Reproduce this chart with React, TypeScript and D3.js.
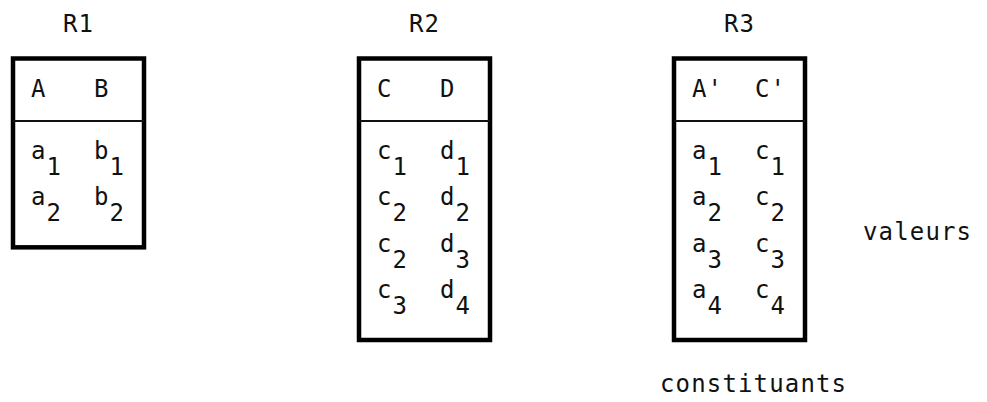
import React, { useEffect, useRef } from 'react';
import * as d3 from 'd3';

// relations R1, R2, R3
const tableNames = ['R1', 'R2', 'R3'];
const tableHeaders = [['A', 'B'], ['C', 'D'], ["A'", "C'"]];
const r1Values = [['a1', 'b1'], ['a2', 'b2']];
const r2Values = [['c1', 'd1'], ['c2', 'd2'], ['c2', 'd3'], ['c3', 'd4']];
const r3Values = [['a1', 'c1'], ['a2', 'c2'], ['a3', 'c3'], ['a4', 'c4']];
const sideLabel = 'valeurs';
const bottomLabel = 'constituants';

const width = 987;
const height = 402;
const font = '"DejaVu Sans Mono", "Liberation Mono", monospace';
const fontSize = 24;
const spacing = 1.15;

export default function App() {
  const ref = useRef<SVGSVGElement>(null);

  useEffect(() => {
    document.body.style.margin = '0';
    const svg = d3.select(ref.current);
    svg.selectAll('*').remove();

    const tables = [r1Values, r2Values, r3Values];
    const boxLeft = [13, 359, 674]; // left edge of each box
    const boxW = 131;
    const boxTop = 58.5;
    const sepY = 121;

    // row baselines and column offsets
    const rowY = d3.scaleLinear().domain([0, 3]).range([159, 298]);
    const colX = d3.scaleLinear().domain([0, 1]).range([18, 81]);

    const addText = (sel: any, x: number, y: number) =>
      sel.append('text')
        .attr('x', x)
        .attr('y', y)
        .attr('font-family', font)
        .attr('font-size', fontSize)
        .attr('letter-spacing', spacing)
        .attr('fill', '#111');

    tables.forEach((rows, t) => {
      const g = svg.append('g').attr('transform', `translate(${boxLeft[t]},0)`);
      const bottom = rowY(rows.length - 1) + 42;

      addText(g, boxW / 2, 32)
        .attr('text-anchor', 'middle')
        .text(tableNames[t]);

      g.append('rect')
        .attr('x', 0)
        .attr('y', boxTop)
        .attr('width', boxW)
        .attr('height', bottom - boxTop)
        .attr('fill', 'none')
        .attr('stroke', '#000')
        .attr('stroke-width', 4.5);

      g.append('line')
        .attr('x1', 0)
        .attr('x2', boxW)
        .attr('y1', sepY)
        .attr('y2', sepY)
        .attr('stroke', '#111')
        .attr('stroke-width', 2);

      tableHeaders[t].forEach((h, i) => {
        addText(g, colX(i), 97).text(h);
      });

      rows.forEach((row, r) => {
        row.forEach((cell, c) => {
          const txt = addText(g, colX(c), rowY(r));
          txt.append('tspan').text(cell[0]);
          txt.append('tspan').attr('dy', 16).text(cell.slice(1));
        });
      });
    });

    addText(svg, 863, 240).text(sideLabel);
    addText(svg, 660, 392).text(bottomLabel);
  }, []);

  return (
    <svg ref={ref} width={width} height={height} style={{ display: 'block', background: '#fff' }} />
  );
}
